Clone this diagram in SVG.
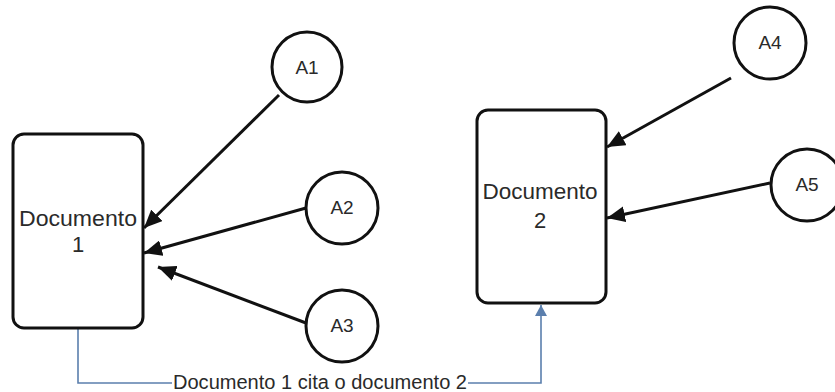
<svg xmlns="http://www.w3.org/2000/svg" width="835" height="392" viewBox="0 0 835 392">
  <style>
    .doc { fill: #ffffff; stroke: #111111; stroke-width: 3; }
    .author { fill: #ffffff; stroke: #111111; stroke-width: 3; }
    .lbl { font-family: "Liberation Sans", Arial, sans-serif; fill: #2a2a2a; text-anchor: middle; }
    .edge { stroke: #111111; stroke-width: 3; fill: none; marker-end: url(#head); }
    .cite { stroke: #5b7fad; stroke-width: 1.6; fill: none; }
  </style>
  <defs>
    <marker id="head" markerUnits="userSpaceOnUse" markerWidth="19" markerHeight="16" refX="18" refY="8" orient="auto">
      <path d="M0,0 L18,8 L0,16 Z" fill="#111111"/>
    </marker>
    <marker id="bluehead" markerUnits="userSpaceOnUse" markerWidth="14" markerHeight="12" refX="11" refY="6" orient="auto">
      <path d="M0,0 L11,6 L0,12 Z" fill="#5b7fad"/>
    </marker>
  </defs>

  <rect width="835" height="392" fill="#ffffff"/>

  <!-- connectors -->
  <g id="connectors">
    <line class="edge" x1="279" y1="95" x2="144" y2="228"/>
    <line class="edge" x1="306" y1="208" x2="144" y2="253"/>
    <line class="edge" x1="306" y1="323" x2="158" y2="267"/>
    <line class="edge" x1="731" y1="78" x2="607" y2="147"/>
    <line class="edge" x1="770" y1="183" x2="607" y2="218"/>
    <path class="cite" d="M78,329 V383 H172"/>
    <path class="cite" d="M468,383 H541 V305" marker-end="url(#bluehead)"/>
    <text class="lbl" x="320" y="389" font-size="20" textLength="294" lengthAdjust="spacingAndGlyphs">Documento 1 cita o documento 2</text>
  </g>

  <!-- documents -->
  <g id="doc1">
    <rect class="doc" x="13" y="134" width="130" height="194" rx="11"/>
    <text class="lbl" x="78" y="226" font-size="22" textLength="118" lengthAdjust="spacingAndGlyphs">Documento</text>
    <text class="lbl" x="78" y="252" font-size="22">1</text>
  </g>
  <g id="doc2">
    <rect class="doc" x="477" y="110" width="129" height="193" rx="11"/>
    <text class="lbl" x="540" y="199" font-size="22" textLength="115" lengthAdjust="spacingAndGlyphs">Documento</text>
    <text class="lbl" x="540" y="228" font-size="22">2</text>
  </g>

  <!-- authors -->
  <g id="A1">
    <circle class="author" cx="307" cy="67" r="35"/>
    <text class="lbl" x="307" y="74" font-size="19">A1</text>
  </g>
  <g id="A2">
    <circle class="author" cx="342" cy="208" r="36"/>
    <text class="lbl" x="342" y="214" font-size="19">A2</text>
  </g>
  <g id="A3">
    <circle class="author" cx="342" cy="326" r="36"/>
    <text class="lbl" x="342" y="332" font-size="19">A3</text>
  </g>
  <g id="A4">
    <circle class="author" cx="770" cy="43" r="36"/>
    <text class="lbl" x="770" y="49" font-size="19">A4</text>
  </g>
  <g id="A5">
    <circle class="author" cx="807" cy="185" r="36"/>
    <text class="lbl" x="807" y="191" font-size="19">A5</text>
  </g>
</svg>
